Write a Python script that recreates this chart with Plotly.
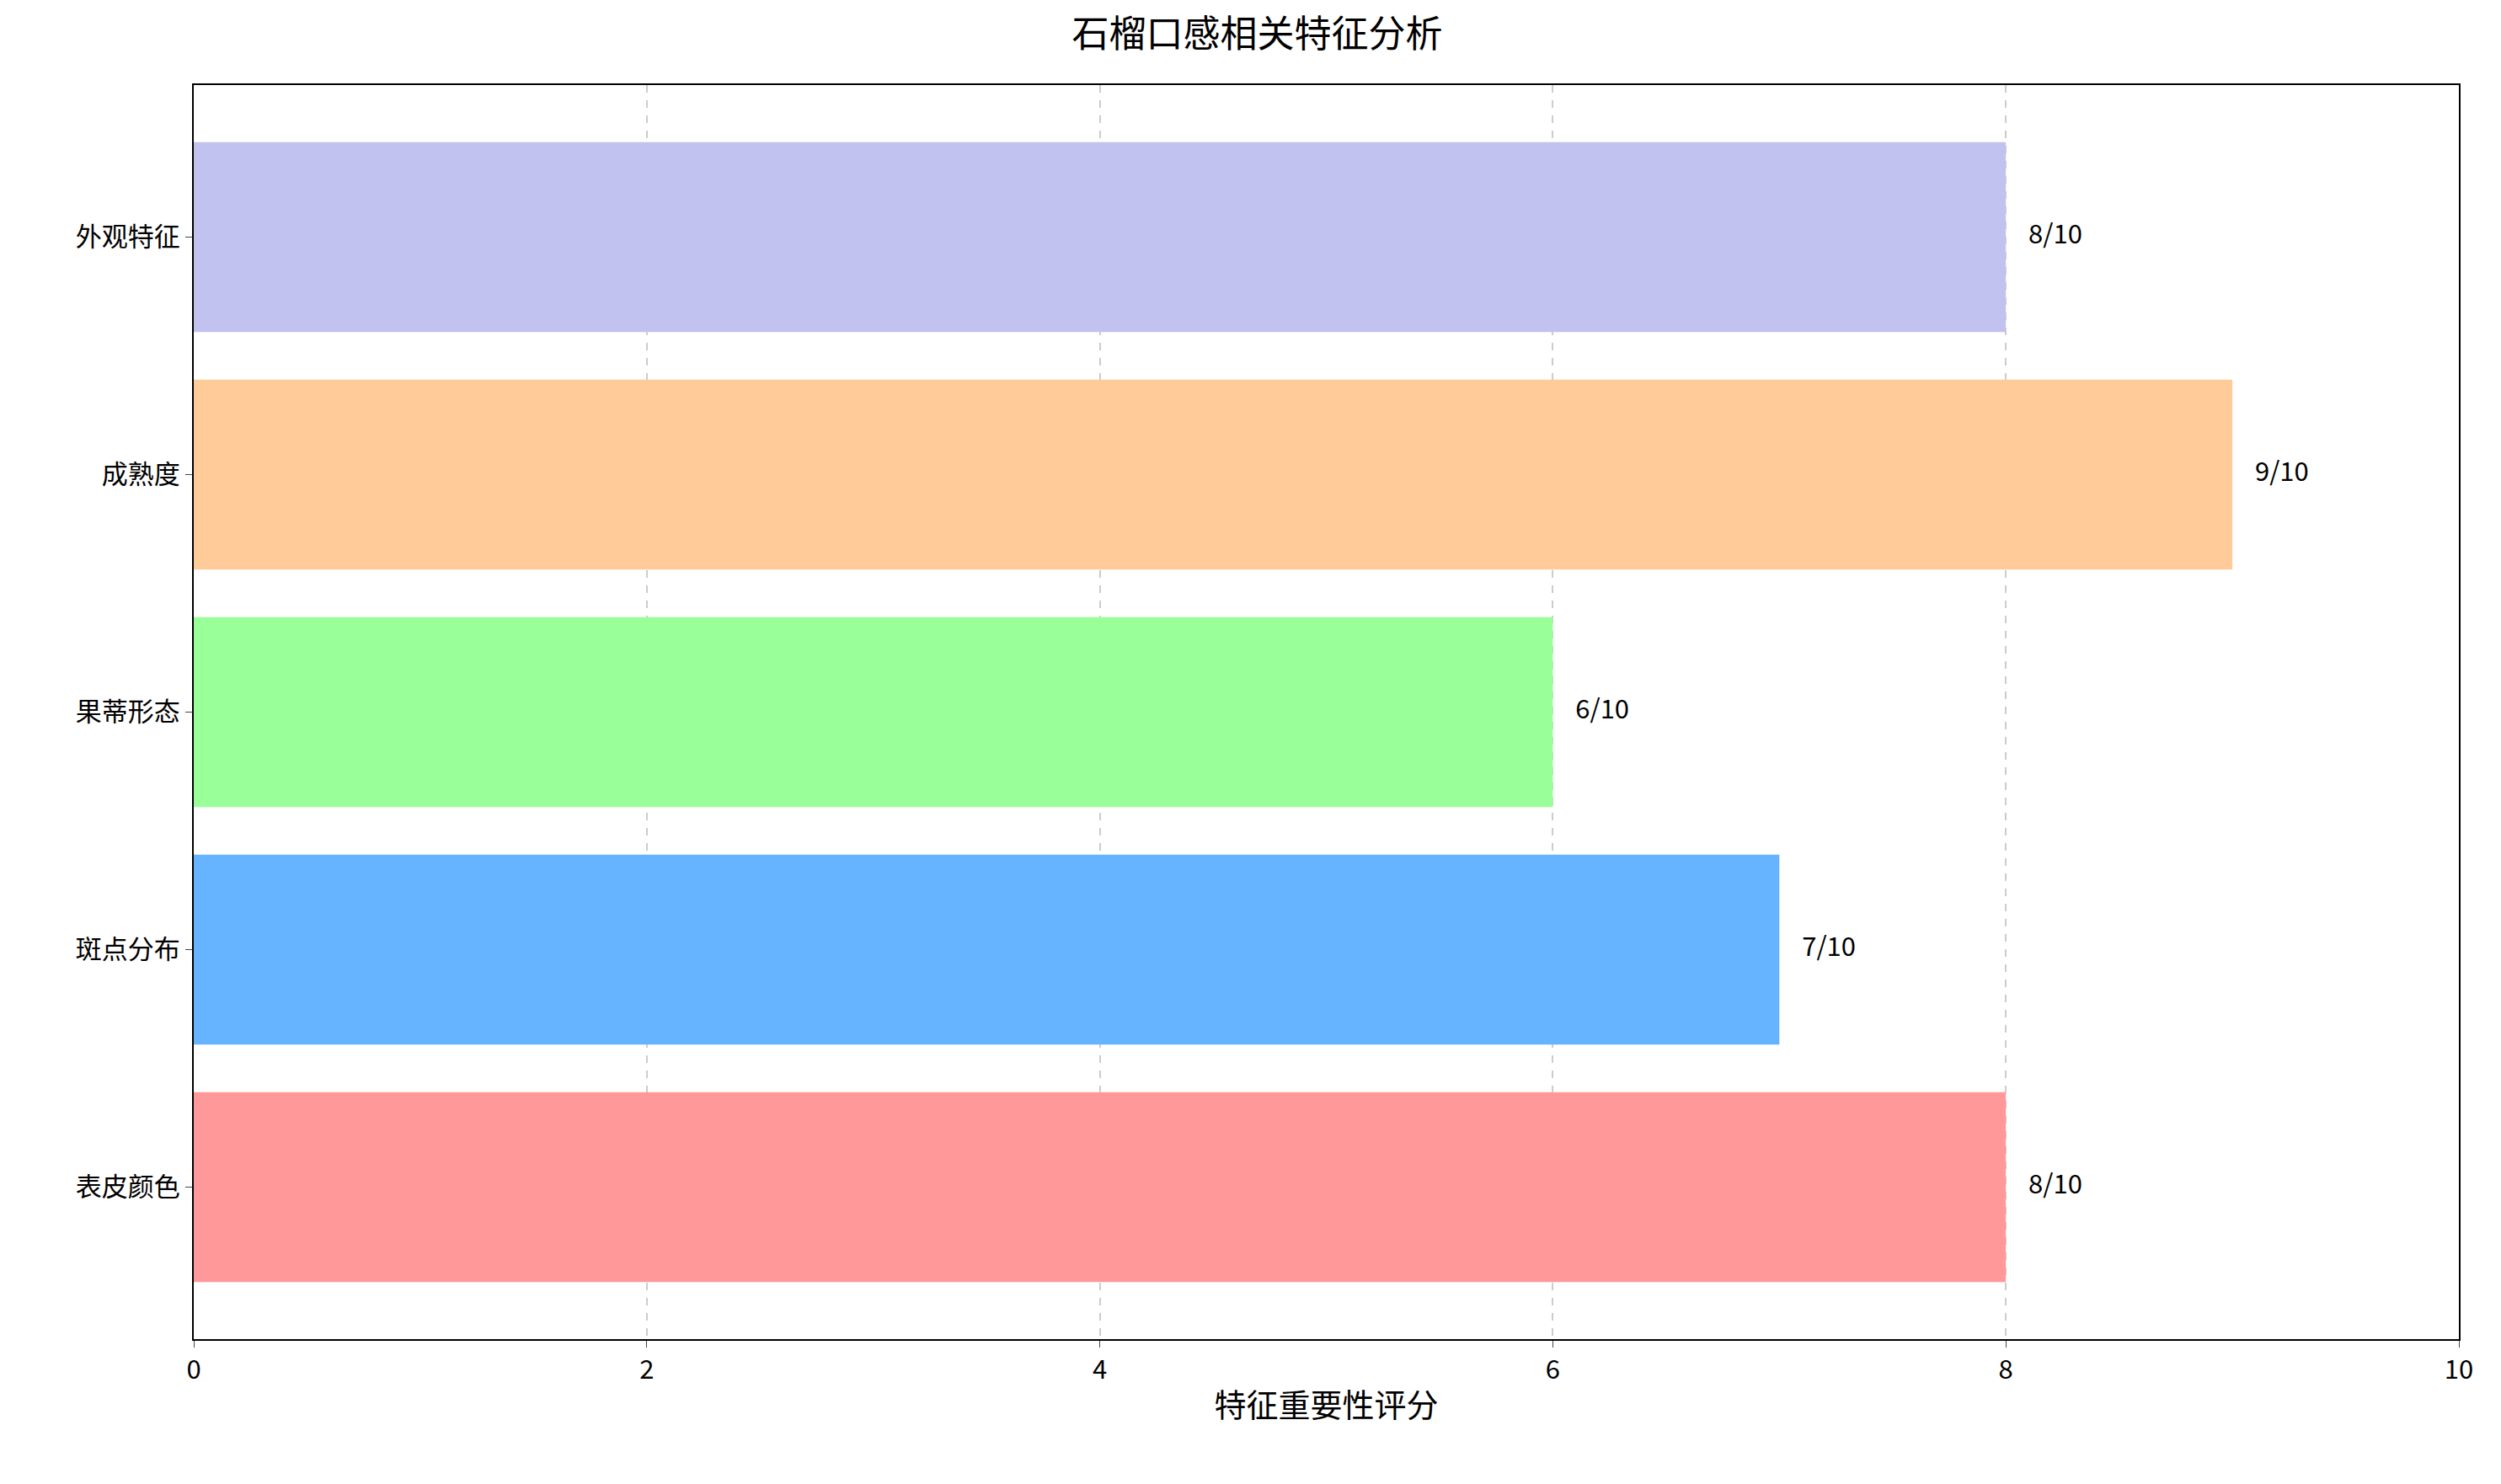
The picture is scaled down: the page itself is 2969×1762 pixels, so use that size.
import plotly.graph_objects as go

categories = ["表皮颜色", "斑点分布", "果蒂形态", "成熟度", "外观特征"]
scores = [8, 7, 6, 9, 8]
colors = ["#ff9999", "#66b3ff", "#99ff99", "#ffcc99", "#c2c2f0"]
labels = [f"{v}/10" for v in scores]

font = "Noto Sans CJK SC"
fig = go.Figure()
fig.add_trace(go.Bar(y=list(range(len(categories))), x=scores, orientation="h",
                     marker=dict(color=colors, line=dict(width=0)), width=0.8))
fig.add_trace(go.Scatter(x=[v + 0.1 for v in scores], y=list(range(len(categories))),
                         mode="text", text=labels, textposition="middle right",
                         textfont=dict(size=31, color="black", family=font)))
fig.update_layout(
    width=2969, height=1762, plot_bgcolor="white", paper_bgcolor="white",
    showlegend=False, margin=dict(l=222, r=58, t=93, b=180),
    font=dict(family=font, size=31, color="black"),
    title=dict(text="石榴口感相关特征分析", x=0.5, xanchor="center", y=0.99, yanchor="top",
               font=dict(size=44)),
)
fig.update_xaxes(range=[0, 10], dtick=2, showgrid=True, gridcolor="#cccccc", griddash="dash",
                 gridwidth=2, showline=True, linecolor="black", linewidth=2, mirror=True,
                 ticks="outside", ticklen=8, zeroline=False,
                 title=dict(text="特征重要性评分", font=dict(size=38), standoff=10))
fig.update_yaxes(range=[-0.64, 4.64], tickvals=list(range(len(categories))), ticktext=categories,
                 showgrid=False, showline=True, linecolor="black", linewidth=2, mirror=True,
                 ticks="outside", ticklen=8, zeroline=False)
fig.write_html("out.html")
